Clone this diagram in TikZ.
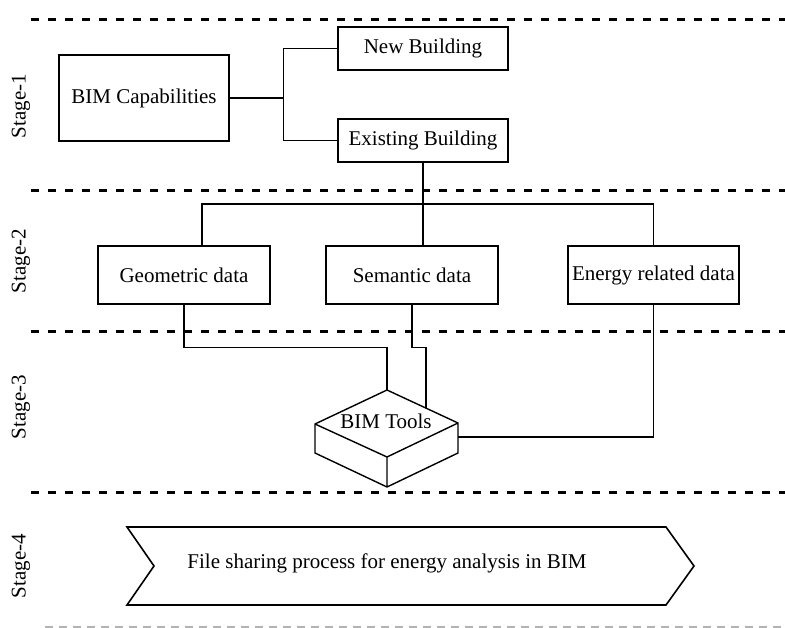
\documentclass[tikz,border=0pt]{standalone}
\usepackage{fontspec}
\setmainfont{Liberation Serif}
\usetikzlibrary{positioning,calc}

\begin{document}
\begin{tikzpicture}[x=1pt,y=-1pt,
    box/.style={draw, line width=1.4pt, inner sep=0pt, font=\fontsize{21}{25}\selectfont},
    link/.style={line width=1.1pt},
    stageline/.style={line width=3pt, dash pattern=on 8pt off 9pt},
    stagelabel/.style={rotate=90, font=\fontsize{21}{25}\selectfont}]
    \useasboundingbox (0,0) rectangle (785,628);

    % stage separators
    \foreach \y in {20,191,332,492}
        \draw[stageline] (31,\y) -- (785,\y);
    \draw[gray!60, line width=1.4pt, dash pattern=on 8pt off 6pt] (45,627) -- (785,627);

    \node[stagelabel] (s1) at (21,106) {Stage-1};
    \node[stagelabel] (s2) at (21,261) {Stage-2};
    \node[stagelabel] (s3) at (21,407) {Stage-3};
    \node[stagelabel] (s4) at (21,566) {Stage-4};

    % stage 1
    \node[box, minimum width=170pt, minimum height=86pt] (cap) at (144,98) {BIM Capabilities};
    \node[box, minimum width=170pt, minimum height=43pt] (newb) at (423,48.5) {New Building};
    \node[box, minimum width=170pt, minimum height=43pt] (exist) at (423,140.5) {Existing Building};
    \draw[link] (cap.east) -- ++(54,0) |- (newb.west);
    \draw[link] (cap.east) -- ++(54,0) |- (exist.west);

    % stage 2
    \node[box, minimum width=172pt, minimum height=58pt] (geo) at (184,275) {Geometric data};
    \node[box, minimum width=172pt, minimum height=58pt] (sem) at (412,275) {Semantic data};
    \node[box, minimum width=171pt, minimum height=58pt] (energy) at (653.5,275) {Energy related data};
    \coordinate (bus) at (0,204);
    \draw[link] (exist.south) -- (exist.south |- sem.north);
    \draw[link] ([xshift=18pt]geo.north) |- (energy.north |- bus) -- (energy.north);

    % stage 3
    \coordinate (ttop) at (387,390);
    \coordinate (tleft) at (315,424);
    \coordinate (tright) at (458,423);
    \coordinate (tfront) at (387,457);
    \coordinate (tsem) at (426,408);
    \coordinate (tin) at (458,437);
    \draw[line width=1.4pt, line join=round] (ttop) -- (tright) -- (tfront) -- (tleft) -- cycle
        (tleft) -- ++(0,29) -- ($(tfront)+(0,30)$) -- ($(tright)+(0,30)$) -- (tright)
        (tfront) -- ++(0,30);
    \node[font=\fontsize{21}{25}\selectfont] (tools) at (386,421) {BIM Tools};
    \draw[link] (geo.south) -- ++(0,43) -| (ttop);
    \draw[link] (sem.south) -- ++(0,43) -| (tsem);
    \draw[link] (energy.south) |- (tin);

    % stage 4
    \draw[line width=1.6pt] (127,527) -- (666,527) -- (694,566) -- (666,605) -- (127,605) -- (154,566) -- cycle;
    \node[font=\fontsize{21}{25}\selectfont] (share) at (387,563) {File sharing process for energy analysis in BIM};
\end{tikzpicture}
\end{document}
